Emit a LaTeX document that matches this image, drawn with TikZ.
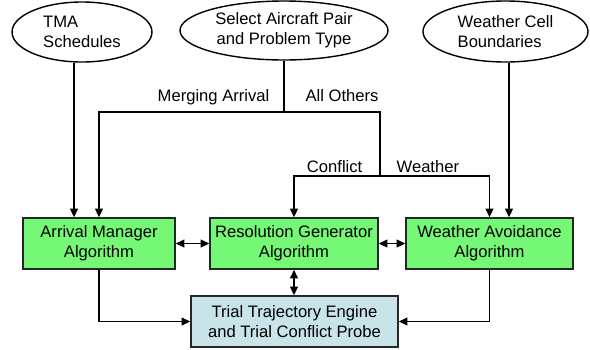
\documentclass[tikz,border=0pt]{standalone}
\usepackage{fontspec}
\setmainfont{Liberation Sans}
\usepackage{tikz}
\usetikzlibrary{arrows.meta}
\usetikzlibrary{shapes,positioning}
\definecolor{algoGreen}{RGB}{117,248,117}
\definecolor{probeBlue}{RGB}{200,228,232}
\colorlet{penColor}{black!85}
\tikzset{>={Triangle[length=8.5pt,width=8pt]},
  inputOval/.style={ellipse,draw,line width=1.4pt,inner sep=0pt,
    font=\fontsize{16.6}{20}\selectfont},
  algoBox/.style={rectangle,draw=penColor,line width=1.8pt,fill=algoGreen,
    minimum height=51,inner sep=0pt,align=center,
    font=\fontsize{16.6}{20}\selectfont},
  branchLabel/.style={inner sep=0pt,font=\fontsize{16.6}{20}\selectfont}}

\begin{document}
\begin{tikzpicture}[x=1pt,y=-1pt,line width=1.3pt]

  \useasboundingbox (0,0) rectangle (590,349);

  \node [inputOval,minimum width=140,minimum height=60,align=left] (tma) at (82,32) {TMA\\Schedules};
  \node [inputOval,minimum width=208,minimum height=59,align=center] (sel) at (284,30.5) {Select Aircraft Pair\\and Problem Type};
  \node [inputOval,minimum width=165,minimum height=61,align=left] (cell) at (505.5,31.5) {Weather Cell\\Boundaries};

  \node [algoBox,minimum width=152] (arrival) at (99,243.5) {Arrival Manager\\Algorithm};
  \node [algoBox,minimum width=168] (resolve) at (294,243.5) {Resolution Generator\\Algorithm};
  \node [algoBox,minimum width=167] (avoid) at (489.5,243.5) {Weather Avoidance\\Algorithm};
  \node [algoBox,fill=probeBlue,minimum width=207] (probe) at (294.5,321.5) {Trial Trajectory Engine\\and Trial Conflict Probe};

  \coordinate (fork) at (284,112);
  \coordinate (turn) at (380,112);
  \coordinate (split) at (380,176);

  \draw (sel.south) -- (fork);
  \draw [->] (fork) -| (arrival.north);
  \draw (fork) -- (turn) -- (split);
  \draw [->] (split) -| (resolve.north);
  \draw [->] (split) -| (avoid.north);

  \draw [->] ([xshift=-8]tma.south) -- ([xshift=-25]arrival.north);
  \draw [->] ([xshift=3.5]cell.south) -- ([xshift=19.5]avoid.north);

  \draw [<->] (arrival.east) -- (resolve.west);
  \draw [<->] (resolve.east) -- (avoid.west);
  \draw [<->] (resolve.south) -- (resolve.south |- probe.north);
  \draw [->] (arrival.south) |- (probe.west);
  \draw [->] (avoid.south) |- (probe.east);

  \node [branchLabel,anchor=base east] (merging) at (270,101) {Merging Arrival};
  \node [branchLabel,anchor=base west] (others) at (305,101) {All Others};
  \node [branchLabel,anchor=base east] (conflict) at (363,172) {Conflict};
  \node [branchLabel,anchor=base west] (weather) at (396,172) {Weather};

\end{tikzpicture}
\end{document}
